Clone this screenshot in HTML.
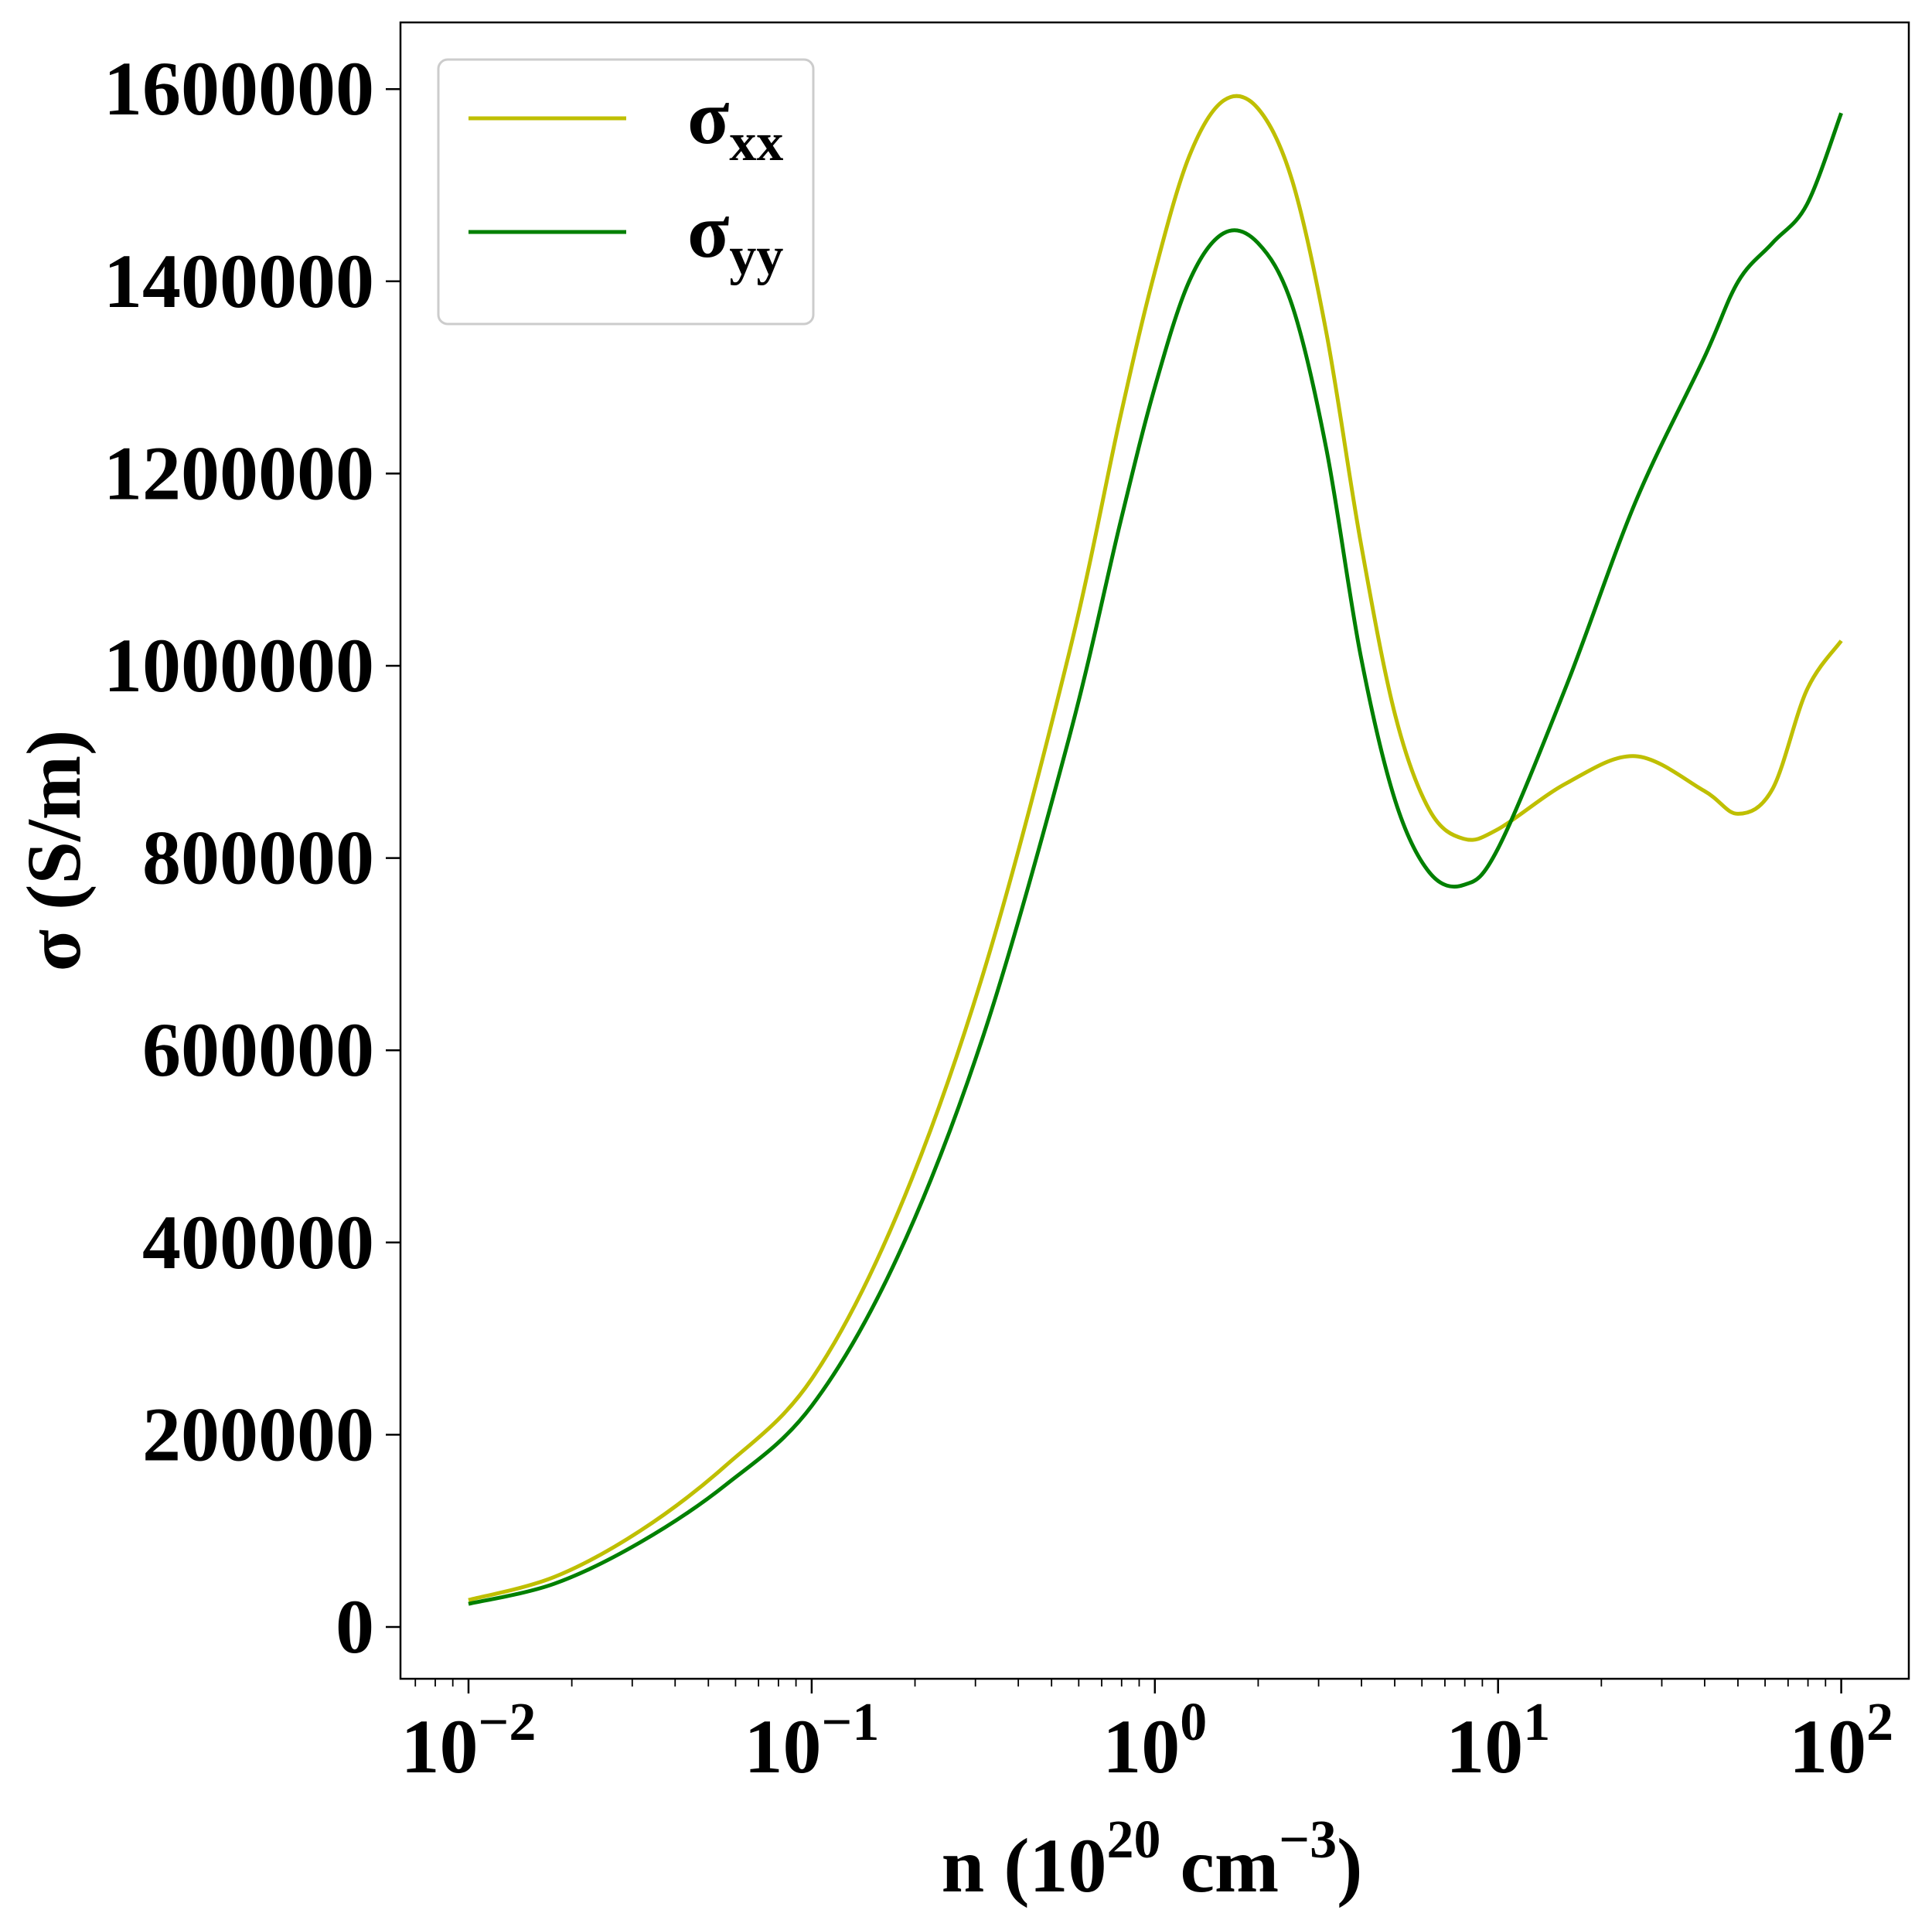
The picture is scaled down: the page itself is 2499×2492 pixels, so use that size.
<!DOCTYPE html>
<html><head><meta charset="utf-8">
<style>html,body{margin:0;padding:0;background:#fff}svg{display:block}text{font-family:"Liberation Serif",serif;font-weight:bold;fill:#000}</style>
</head><body>
<svg id="chart" width="2499" height="2492" viewBox="0 0 2499 2492" xmlns="http://www.w3.org/2000/svg"></svg>
<script>
const logN = [-2,-1.75,-1.5,-1.25,-1,-0.75,-0.5,-0.25,-0.1,0,0.1,0.2,0.3,0.4,0.5,0.6,0.7,0.8,0.9,1.0,1.2,1.4,1.6,1.7,1.8,1.9,2.0];
const sigmaXX = [28000,52000,100000,168000,258000,430000,680000,1013000,1260000,1410000,1530000,1588000,1580000,1505000,1346000,1128000,949000,850000,820000,830000,878000,906000,870000,846000,872000,975000,1026000];
const sigmaYY = [24000,45000,88000,148000,230000,385000,615000,925000,1150000,1290000,1400000,1450000,1440000,1375000,1225000,1010000,860000,785000,772000,810000,980000,1170000,1320000,1400000,1440000,1480000,1575000];
const yTicks = [0,200000,400000,600000,800000,1000000,1200000,1400000,1600000];
const xTickExps = [-2,-1,0,1,2];

const svg = document.getElementById('chart');
const NS = 'http://www.w3.org/2000/svg';
const L=518,R=2469,T=29,B=2171;
function xs(lg){return 606 + (lg+2)*443.9;}
function ys(v){return 2104 - v/200000*248.6;}
function mk(tag, attrs, parent){const e=document.createElementNS(NS,tag);for(const k in attrs)e.setAttribute(k,attrs[k]);(parent||svg).appendChild(e);return e;}

const frame = mk('rect',{x:L,y:T,width:R-L,height:B-T,fill:'none',stroke:'#000','stroke-width':2.5});



yTicks.forEach(v=>{
  const y=ys(v);
  const t=mk('line',{x1:L-19,x2:L,y1:y,y2:y,stroke:'#000','stroke-width':2.5});
  
  
  const lb=mk('text',{x:L-34,y:y+33,'font-size':100,'text-anchor':'end'});
  lb.textContent=String(v);
  
  
});

for(let e=-3;e<=2;e++){
  for(let m=1;m<10;m++){
    const lg=e+Math.log10(m);
    const x=xs(lg);
    if(x<L||x>R)continue;
    const major=m===1;
    const t=mk('line',{x1:x,x2:x,y1:B,y2:B+(major?19:10),stroke:'#000','stroke-width':major?2.5:1.8});
    
    
  }
}
xTickExps.forEach(e=>{
  const x=xs(e);
  const lb=mk('text',{x:x,y:2292,'font-size':100,'text-anchor':'middle'});
  const b=mk('tspan',{},lb); b.textContent='10';
  const s=mk('tspan',{dy:-42,'font-size':70},lb); s.textContent=(e<0?'\u2212':'')+Math.abs(e);
  
  
});

const xt=mk('text',{x:1490,y:2446,'font-size':100,'text-anchor':'middle'});
xt.innerHTML='n (10<tspan dy="-44" font-size="70">20</tspan><tspan dy="44"> cm</tspan><tspan dy="-44" font-size="70">\u22123</tspan><tspan dy="44">)</tspan>';


const yt=mk('text',{x:0,y:0,'font-size':100,'text-anchor':'middle',transform:'translate(103,1100) rotate(-90)'});
yt.textContent='\u03c3 (S/m)';



function pathFor(vals){
  const p=logN.map((l,i)=>[xs(l),ys(vals[i])]);
  let d='M'+p[0][0]+','+p[0][1];
  for(let i=0;i<p.length-1;i++){
    const p0=p[Math.max(i-1,0)],p1=p[i],p2=p[i+1],p3=p[Math.min(i+2,p.length-1)];
    const c1=[p1[0]+(p2[0]-p0[0])/6,p1[1]+(p2[1]-p0[1])/6];
    const c2=[p2[0]-(p3[0]-p1[0])/6,p2[1]-(p3[1]-p1[1])/6];
    d+=' C'+c1.join(',')+' '+c2.join(',')+' '+p2.join(',');
  }
  return d;
}
const cx=mk('path',{d:pathFor(sigmaXX),fill:'none',stroke:'#bfbf00','stroke-width':5});


const cy=mk('path',{d:pathFor(sigmaYY),fill:'none',stroke:'#008000','stroke-width':5});



const lg=mk('g',{});


mk('rect',{x:567,y:77,width:485,height:342,rx:12,fill:'#fff',stroke:'#ccc','stroke-width':3},lg);
const entries=[['xx','#bfbf00',153],['yy','#008000',300]];
entries.forEach(([sub,col,y])=>{
  const g=mk('g',{},lg);
  
  
  mk('line',{x1:606,x2:810,y1:y,y2:y,stroke:col,'stroke-width':5},g);
  const t=mk('text',{x:889,y:y+32,'font-size':100},g);
  t.innerHTML='\u03c3<tspan dy="22" font-size="70">'+sub+'</tspan>';
});
</script>
</body></html>
